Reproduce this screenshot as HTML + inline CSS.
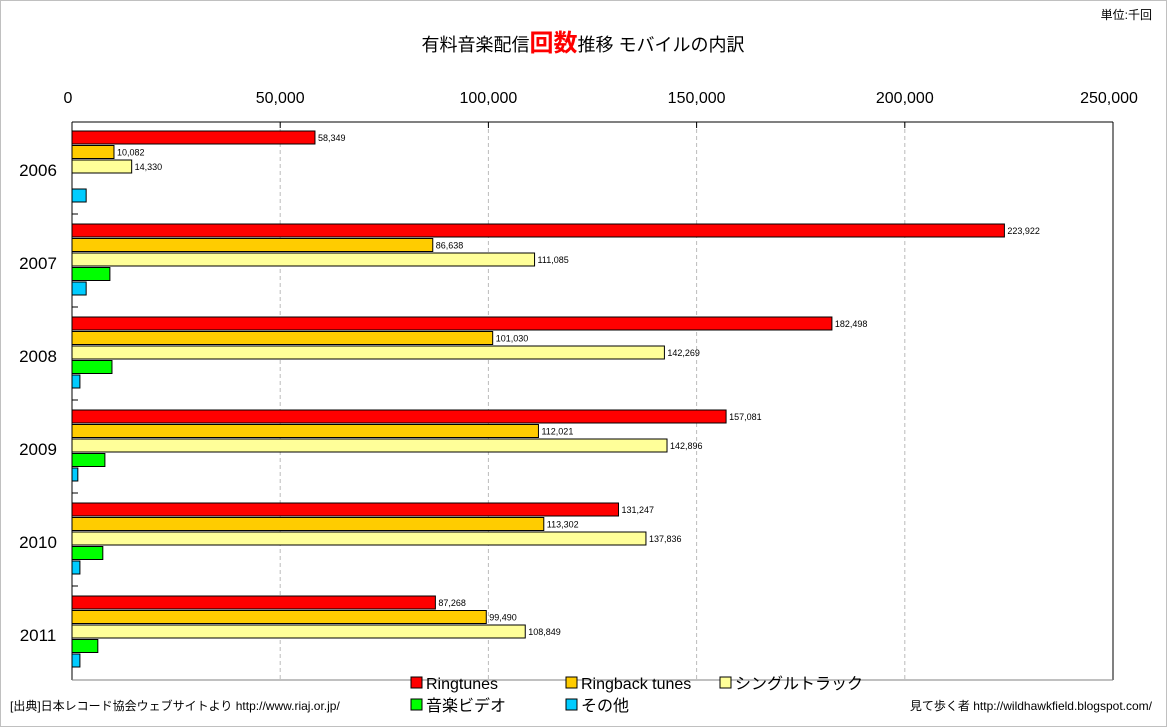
<!DOCTYPE html>
<html><head><meta charset="utf-8"><style>
body{margin:0;background:#fff;}
svg{display:block;font-family:"Liberation Sans","Noto Sans CJK JP",sans-serif;}
</style></head><body>
<svg id="c" width="1167" height="727">
<rect x="0.5" y="0.5" width="1166" height="726" fill="#fff" stroke="#c0c0c0"/>
<text x="1152" y="19" font-size="12" text-anchor="end">単位:千回</text>
<text x="583" y="51" font-size="18" text-anchor="middle">有料音楽配信<tspan fill="#f00" font-size="24" font-weight="bold">回数</tspan>推移 モバイルの内訳</text>
<g id="plot"></g>
<text x="10" y="710" font-size="12">[出典]日本レコード協会ウェブサイトより http://www.riaj.or.jp/</text>
<text x="1152" y="710" font-size="12" text-anchor="end">見て歩く者 http://wildhawkfield.blogspot.com/</text>
</svg>
<script>
const categories=["2006","2007","2008","2009","2010","2011"];
const seriesNames=["Ringtunes","Ringback tunes","シングルトラック","音楽ビデオ","その他"];
const ringtunes=[58349,223922,182498,157081,131247,87268];
const ringback=[10082,86638,101030,112021,113302,99490];
const single=[14330,111085,142269,142896,137836,108849];
const video=[0,9100,9600,7900,7400,6200];
const other=[3400,3400,1900,1400,1900,1900];
const labelR=["58,349","223,922","182,498","157,081","131,247","87,268"];
const labelB=["10,082","86,638","101,030","112,021","113,302","99,490"];
const labelS=["14,330","111,085","142,269","142,896","137,836","108,849"];
const ticks=[0,50000,100000,150000,200000,250000];
const tickLabels=["0","50,000","100,000","150,000","200,000","250,000"];
const colors=["#ff0000","#ffcc00","#ffff99","#00ff00","#00ccff"];
const series=[ringtunes,ringback,single,video,other];
const labels=[labelR,labelB,labelS,null,null];
const NS="http://www.w3.org/2000/svg";
const L=72,R=1113,T=122,B=680,MAX=250000;
const x=v=>L+v/MAX*(R-L);
const grpH=(B-T)/categories.length;
const g=document.getElementById('plot');
function mk(t,a,p){const e=document.createElementNS(NS,t);for(const k in a)e.setAttribute(k,a[k]);(p||g).appendChild(e);return e;}
let e=mk('rect',{x:L,y:T,width:R-L,height:B-T,fill:'#fff',stroke:'none'});


ticks.forEach((t,i)=>{
 if(i>0&&i<ticks.length-1){const l=mk('line',{x1:x(t),x2:x(t),y1:T,y2:B,stroke:'#bbb','stroke-dasharray':'4,3'});
 
 
 const tk=mk('line',{x1:x(t),x2:x(t),y1:T,y2:T+6,stroke:'#000'});
 
 }
 const tx=mk('text',{x:x(t)-(i==ticks.length-1?4:0)+(i==0?-4:0),y:103,'font-size':16,'text-anchor':'middle'});tx.textContent=tickLabels[i];
 
 
});
categories.forEach((c,ci)=>{
 const gy=T+ci*grpH;
 const cl=mk('text',{x:38,y:gy+54,'font-size':17,'text-anchor':'middle'});cl.textContent=c;
 
 
 if(ci<categories.length-1){const tk=mk('line',{x1:L,x2:L+6,y1:gy+grpH-1,y2:gy+grpH-1,stroke:'#000'});
 
 }
 series.forEach((s,si)=>{
  const v=s[ci];if(!v)return;
  const by=gy+9+si*14.5;
  const r=mk('rect',{x:L,y:by,width:x(v)-L,height:13,fill:colors[si],stroke:'#000','stroke-width':1});
  
  
  if(labels[si]){const t=mk('text',{x:x(v)+3,y:by+10,'font-size':9});t.textContent=labels[si][ci];
  
  }
 });
});
e=mk('line',{x1:L,x2:R,y1:T,y2:T,stroke:'#000'});
e=mk('line',{x1:R,x2:R,y1:T,y2:B,stroke:'#000'});
e=mk('line',{x1:L,x2:L,y1:T,y2:B,stroke:'#000'});
e=mk('line',{x1:L,x2:R,y1:B,y2:B,stroke:'#808080'});
const lx=[411,566,720,411,566],ly=[683,683,683,705,705];
seriesNames.forEach((n,i)=>{
 const r=mk('rect',{x:lx[i],y:ly[i]-6,width:11,height:11,fill:colors[i],stroke:'#000'});
 
 
 const t=mk('text',{x:lx[i]+15,y:ly[i]+6,'font-size':16});t.textContent=n;
 
 
});
</script>
</body></html>
